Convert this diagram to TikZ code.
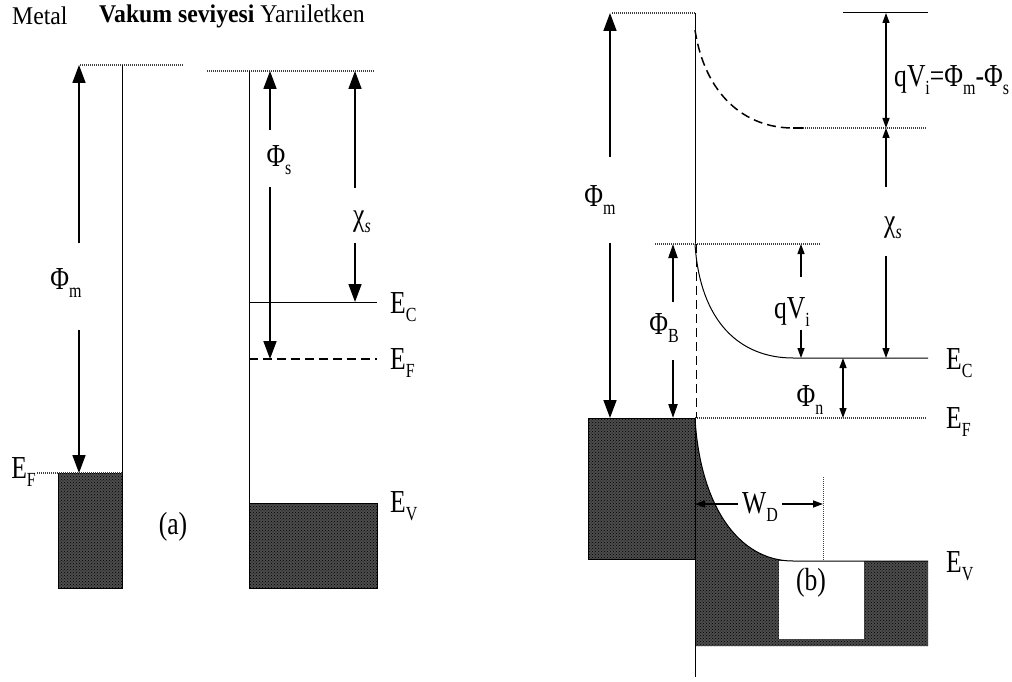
\documentclass[tikz,border=0pt]{standalone}
\usepackage{fontspec}
\setmainfont[FakeStretch=0.8]{Liberation Serif}
\newfontfamily\ttlfont[FakeStretch=0.93]{Liberation Serif}
\usetikzlibrary{arrows.meta,patterns}
\newcommand{\sbs}[1]{\raisebox{-0.5ex}{\fontsize{20}{20}\selectfont #1}}
\begin{document}
\begin{tikzpicture}[x=1pt,y=-1pt,
  lvl/.style={line width=1pt},
  dotl/.style={line width=1.3pt,black!75,dash pattern=on 1pt off 1pt},
  dashl/.style={line width=1.5pt,dash pattern=on 9pt off 5pt},
  band/.style={fill=black!70,postaction={pattern=crosshatch dots,pattern color=black}},
  bigarr/.style={line width=1.6pt,-{Triangle[length=18pt,width=13pt]}},
  midarr/.style={line width=2.2pt,-{Triangle[length=14pt,width=9pt]}},
  smlarr/.style={line width=1.3pt,-{Triangle[length=10pt,width=7pt]}},
  lab/.style={font=\fontsize{32}{32}\selectfont,inner sep=0pt},
  ttl/.style={font=\ttlfont\fontsize{25.5}{26}\selectfont,inner sep=0pt,anchor=west}]
\useasboundingbox (0,0) rectangle (1012,682);
\fill[white] (0,0) rectangle (1012,682);

% ---------- title ----------
\node[ttl] (tmetal) at (12,16) {Metal};
\node[ttl] (tvac) at (99,16) {\bfseries Vakum seviyesi \mdseries Yarıiletken};

% ---------- (a) metal ----------
\coordinate (mvacL) at (80,65);
\coordinate (mvacR) at (183,65);
\coordinate (mtop) at (122,65);
\coordinate (mEF) at (122,473);
\coordinate (mEFL) at (37,473);
\draw[band] (58,473) rectangle (122,588);
\draw[dotl] (mvacL) -- (mvacR);
\draw[lvl] (mtop) -- (mEF);
\draw[dotl] (mEFL) -- (mEF);
\node[lab,anchor=east] (mEFlab) at (36,472) {E\sbs{F}};
\coordinate (pm1) at (79,243); \coordinate (pm1t) at (79,65);
\coordinate (pm2) at (79,330); \coordinate (pm2t) at (79,473);
\draw[bigarr] (pm1) -- (pm1t);
\draw[bigarr] (pm2) -- (pm2t);
\node[lab] (phim) at (66,283) {Φ\sbs{m}};

% ---------- (a) semiconductor ----------
\coordinate (svacL) at (207,71);
\coordinate (svacR) at (375,71);
\coordinate (stop) at (249,71);
\coordinate (sbot) at (249,588);
\draw[band] (249,503) rectangle (377,588);
\draw[dotl] (svacL) -- (svacR);
\draw[lvl] (stop) -- (sbot);
\coordinate (ecL) at (249,302); \coordinate (ecR) at (377,302);
\coordinate (efL) at (249,359); \coordinate (efR) at (377,359);
\coordinate (evL) at (249,503); \coordinate (evR) at (377,503);
\draw[lvl] (ecL) -- (ecR);
\draw[dashl] (efL) -- (efR);
\draw[lvl] (evL) -- (evR);
\node[lab,anchor=west] (aEC) at (390,307) {E\sbs{C}};
\node[lab,anchor=west] (aEF) at (390,363) {E\sbs{F}};
\node[lab,anchor=west] (aEV) at (390,506) {E\sbs{V}};
\coordinate (ps1) at (270,130); \coordinate (ps1t) at (270,71);
\coordinate (ps2) at (270,187); \coordinate (ps2t) at (270,359);
\draw[bigarr] (ps1) -- (ps1t);
\draw[bigarr] (ps2) -- (ps2t);
\node[lab] (phis) at (279,160) {Φ\sbs{s}};
\coordinate (cs1) at (355,188); \coordinate (cs1t) at (355,71);
\coordinate (cs2) at (355,243); \coordinate (cs2t) at (355,302);
\draw[bigarr] (cs1) -- (cs1t);
\draw[bigarr] (cs2) -- (cs2t);
\node[lab] (chis) at (362,222) {χ\sbs{\itshape s}};
\node[lab] (la) at (173,527) {(a)};

% ---------- (b) ----------
\coordinate (bvacL) at (612,13);
\coordinate (bint) at (695,13);
\coordinate (bphiB) at (695,244);
\coordinate (bEF) at (695,418);
\coordinate (bbot) at (695,677);
% bands
\draw[band] (588,418) rectangle (695,559);
\path[band] (695,418) .. controls (700,505) and (738,561) .. (793,561) -- (928,561) -- (928,646) -- (695,646) -- cycle;
\fill[white] (779,561) rectangle (864,639);
\draw[dotl] (bvacL) -- (bint);
\draw[lvl] (bint) -- (bphiB);
\draw[dashl,line width=1pt] ([xshift=1pt]bphiB) -- ([xshift=1pt]bEF);
\draw[lvl] (bEF) -- (bbot);
% vacuum level bending
\coordinate (vbend) at (793,128);
\draw[dashl] (695,30) .. controls (705,95) and (745,128) .. (vbend);
\draw[lvl,line width=2pt] (vbend) -- (803,128);
\coordinate (vflatR) at (927,128);
\draw[dotl] (803,128) -- (vflatR);
\coordinate (mtopL) at (843,13); \coordinate (mtopR) at (928,13);
\draw[lvl] (mtopL) -- (mtopR);
% qVi = phim - phis
\coordinate (qa) at (886,13); \coordinate (qb) at (886,128);
\draw[smlarr,{Triangle[length=10pt,width=7pt]}-{Triangle[length=10pt,width=7pt]}] (qa) -- (qb);
\node[lab,anchor=west] (qvlab) at (894,80) {qV\sbs{i}=Φ\sbs{m}-Φ\sbs{s}};
% chi_s
\coordinate (bc1) at (886,187); \coordinate (bc2) at (886,256);
\coordinate (bcEC) at (886,358);
\draw[smlarr] (bc1) -- (qb);
\draw[smlarr] (bc2) -- (bcEC);
\node[lab] (bchis) at (893,228) {χ\sbs{\itshape s}};
% phi_m
\coordinate (bm1) at (610,157); \coordinate (bm1t) at (610,13);
\coordinate (bm2) at (610,243); \coordinate (bm2t) at (610,418);
\draw[bigarr] (bm1) -- (bm1t);
\draw[bigarr] (bm2) -- (bm2t);
\node[lab] (bphim) at (600,200) {Φ\sbs{m}};
% barrier level
\coordinate (barL) at (655,244); \coordinate (barR) at (820,244);
\draw[dotl] (barL) -- (barR);
% conduction band bending
\coordinate (ecflat) at (793,358); \coordinate (bECR) at (928,358);
\draw[lvl] (bphiB) .. controls (700,322) and (740,358) .. (ecflat) -- (bECR);
% phi_B
\coordinate (pb1) at (673,302); \coordinate (pb1t) at (673,244);
\coordinate (pb2) at (673,360); \coordinate (pb2t) at (673,418);
\draw[midarr] (pb1) -- (pb1t);
\draw[midarr] (pb2) -- (pb2t);
\node[lab] (phib) at (664,328) {Φ\sbs{B}};
% qVi small
\coordinate (qs1) at (801,277); \coordinate (qs1t) at (801,244);
\coordinate (qs2) at (801,330); \coordinate (qs2t) at (801,358);
\draw[smlarr] (qs1) -- (qs1t);
\draw[smlarr] (qs2) -- (qs2t);
\node[lab] (qvi) at (792,312) {qV\sbs{i}};
% phi_n
\coordinate (pn1) at (843,358); \coordinate (pn2) at (843,418);
\draw[smlarr,{Triangle[length=10pt,width=7pt]}-{Triangle[length=10pt,width=7pt]}] (pn1) -- (pn2);
\node[lab] (phin) at (810,400) {Φ\sbs{n}};
% Fermi level
\coordinate (bEFR) at (927,418);
\draw[dotl] (bEF) -- (bEFR);
% valence band edge
\coordinate (evflat) at (793,561); \coordinate (bEVR) at (928,561);
\draw[lvl] (bEF) .. controls (700,505) and (738,561) .. (evflat) -- (bEVR);
% W_D
\coordinate (wdL) at (695,504); \coordinate (wdR) at (823,504);
\coordinate (wd1) at (738,504); \coordinate (wd2) at (782,504);
\draw[smlarr] (wd1) -- (wdL);
\draw[smlarr] (wd2) -- (wdR);
\node[lab] (wd) at (760,507) {W\sbs{D}};
\coordinate (wdtop) at (823,477); \coordinate (wdbot) at (823,561);
\draw[dotl,line width=1pt] (wdtop) -- (wdbot);
\node[lab] (lb) at (811,583) {(b)};
% labels
\node[lab,anchor=west] (bEC) at (946,363) {E\sbs{C}};
\node[lab,anchor=west] (bEFl) at (946,422) {E\sbs{F}};
\node[lab,anchor=west] (bEV) at (946,566) {E\sbs{V}};
\end{tikzpicture}
\end{document}
